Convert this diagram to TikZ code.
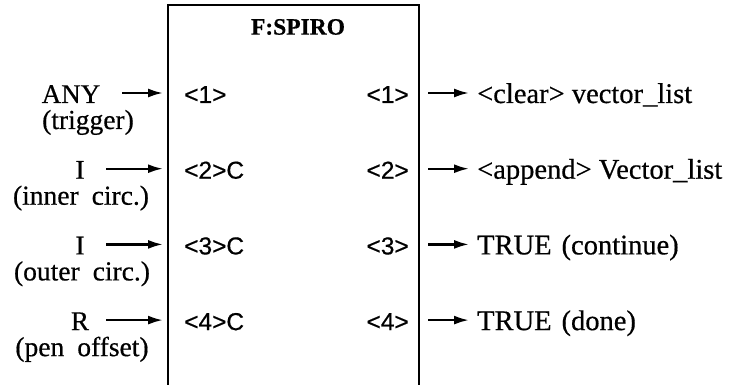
\documentclass[tikz,border=0pt]{standalone}
\usepackage{fontspec}
\setmainfont{Liberation Serif}[FakeBold=0.5]
\setsansfont{Liberation Sans}[FakeBold=0.5]
\newfontfamily\srcfont{Liberation Serif}[FakeBold=0.5, WordSpace=1.9]
\usetikzlibrary{arrows.meta}

\begin{document}
\begin{tikzpicture}[
    x=1pt, y=-1pt,
    srcmain/.style={font=\srcfont\fontsize{27}{30}\selectfont, inner sep=0pt, anchor=base},
    srcsub/.style={font=\srcfont\fontsize{27.5}{30}\selectfont, inner sep=0pt, anchor=base},
    pin/.style={font=\sffamily\fontsize{24.5}{28}\selectfont, inner sep=0pt, anchor=base west},
    pout/.style={font=\sffamily\fontsize{24.5}{28}\selectfont, inner sep=0pt, anchor=base east},
    result/.style={font=\fontsize{28.5}{31}\selectfont, inner sep=0pt, anchor=base west},
    sig/.style={-{Latex[length=15pt,width=9pt]}, line width=2.3pt},
  ]
  \def\rowsep{75.7}
  \useasboundingbox (0,0) rectangle (736,385);

  % --- block outline, open at the bottom ---
  \coordinate (boxBL) at (168,385);
  \coordinate (boxTL) at (168,5);
  \coordinate (boxTR) at (419,5);
  \coordinate (boxBR) at (419,385);
  \draw[line width=2.2pt] (boxBL) -- (boxTL) -- (boxTR) -- (boxBR);
  \node[font=\bfseries\fontsize{23.5}{26}\selectfont] (title) at (298,27) {F:SPIRO};

  % --- inputs ---
  \foreach \n/\m/\s/\mx/\sx/\tx in {1/ANY/(trigger)/71/88/122,
      2/I/(inner circ.)/80/81/106, 3/I/(outer circ.)/80/82/106,
      4/R/(pen offset)/80/82/106} {
    \pgfmathsetmacro\py{93+(\n-1)*\rowsep}
    \node[srcmain] (src\n) at (\mx,\py+10) {\m};
    \node[srcsub] (srcsub\n) at (\sx,\py+36) {\s};
    \coordinate (tail\n) at (\tx,\py);
  }
  \foreach \n/\p in {1/{<1>}, 2/{<2>C}, 3/{<3>C}, 4/{<4>C}} {
    \pgfmathsetmacro\py{93+(\n-1)*\rowsep}
    \node[pin] (in\n) at (184,\py+10) {\p};
    \draw[sig, shorten >=21pt] (tail\n) -- (tail\n -| in\n.west);
  }

  % --- outputs ---
  \foreach \n/\r in {1/{<clear> vector\_list}, 2/{<append> Vector\_list},
      3/{TRUE\hspace{0.35em}(continue)}, 4/{TRUE\hspace{0.35em}(done)}} {
    \pgfmathsetmacro\py{93+(\n-1)*\rowsep}
    \node[pout] (out\n) at (409,\py+10) {<\n>};
    \node[result] (res\n) at (477,\py+10) {\r};
    \draw[sig, shorten <=19pt, shorten >=8pt] (out\n.east |- tail\n) -- (res\n.west |- tail\n);
  }
\end{tikzpicture}
\end{document}
